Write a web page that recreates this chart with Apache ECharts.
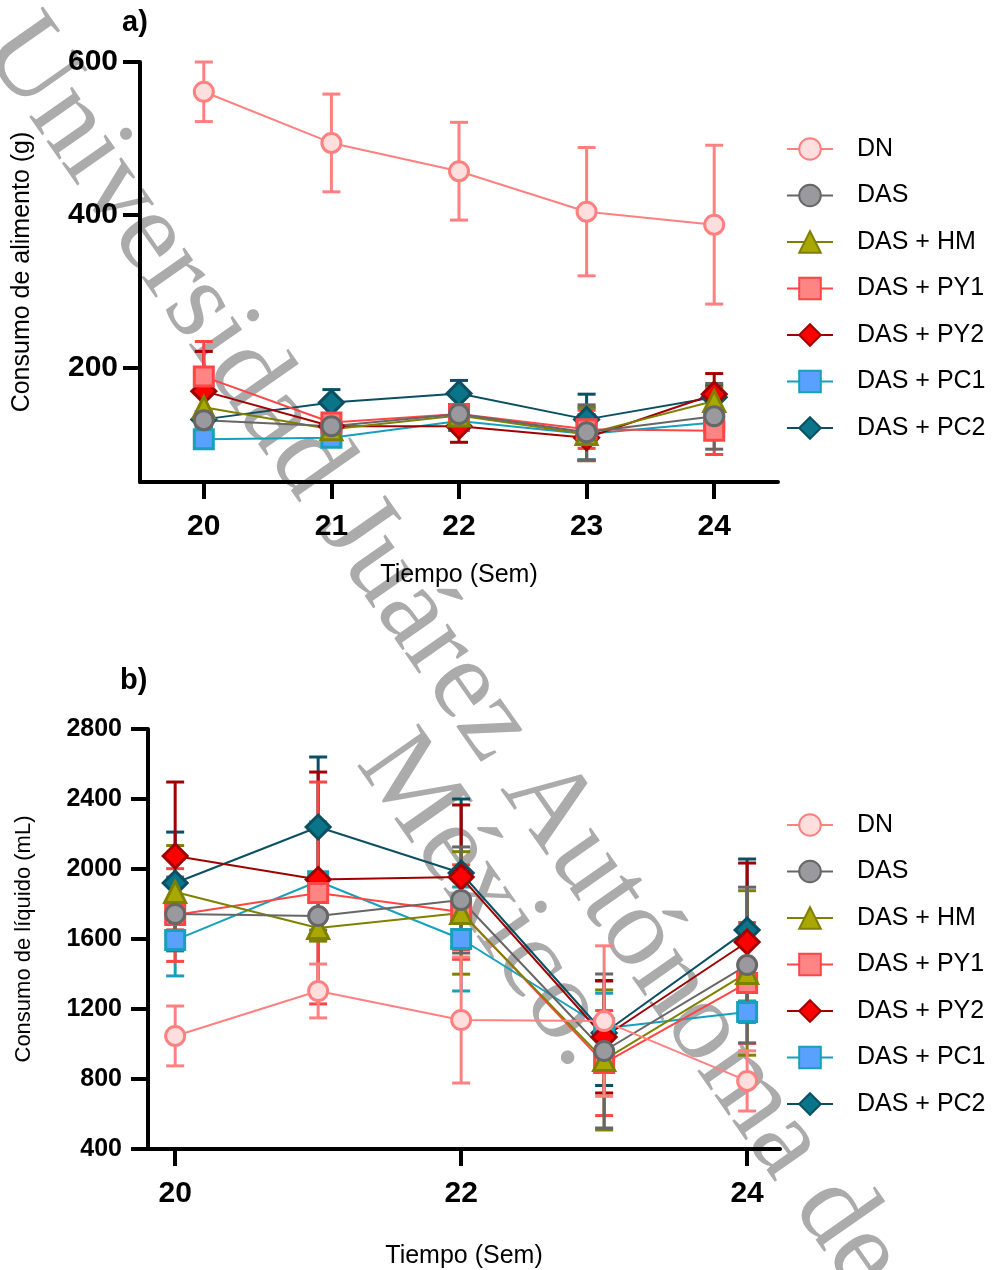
<!DOCTYPE html>
<html>
<head>
<meta charset="utf-8">
<script src="https://cdn.jsdelivr.net/npm/echarts@6/dist/echarts.min.js"></script>
<style>
  html, body { margin: 0; padding: 0; background: #ffffff; }
  #chart { width: 995px; height: 1270px; }
</style>
</head>
<body>
<div id="chart"></div>
<script>
// Weeks of treatment
const weeks = [20, 21, 22, 23, 24];
const groups = ['DN', 'DAS', 'DAS + HM', 'DAS + PY1', 'DAS + PY2', 'DAS + PC1', 'DAS + PC2'];

// a) Food consumption (g): mean and error per week
const foodDN = [561, 494, 457, 404, 387];
const foodDNErr = [39, 64, 64, 84, 104];
const foodDAS = [131, 123, 139, 115, 136];
const foodDASErr = [8, 8, 10, 36, 43];
const foodHM = [148, 119, 137, 113, 156];
const foodHMErr = [23, 6, 6, 35, 18];
const foodPY1 = [188, 128, 139, 119, 117];
const foodPY1Err = [46, 8, 8, 25, 31];
const foodPY2 = [169, 123, 123, 108, 165];
const foodPY2Err = [52, 5, 21, 30, 27];
const foodPC1 = [106, 108, 130, 113, 128];
const foodPC1Err = [6, 6, 8, 34, 10];
const foodPC2 = [132, 154, 166, 132, 161];
const foodPC2Err = [10, 17, 17, 33, 15];

// b) Liquid consumption (mL): mean and error per week
const liqDN = [1046, 1303, 1137, 1131, 789];
const liqDNErr = [171, 154, 360, 430, 172];
const liqDAS = [1743, 1731, 1823, 960, 1451];
const liqDASErr = [211, 80, 303, 440, 445];
const liqHM = [1869, 1663, 1749, 909, 1406];
const liqHMErr = [265, 75, 350, 400, 470];
const liqPY1 = [1737, 1863, 1754, 891, 1349];
const liqPY1Err = [265, 634, 270, 300, 345];
const liqPY2 = [2074, 1940, 1954, 1040, 1583];
const liqPY2Err = [423, 614, 412, 320, 451];
const liqPC1 = [1594, 1930, 1600, 1090, 1183];
const liqPC1Err = [205, 339, 297, 200, 60];
const liqPC2 = [1920, 2240, 1977, 1063, 1651];
const liqPC2Err = [291, 400, 423, 300, 406];

// Tick labels
const foodXTicks = [20, 21, 22, 23, 24];
const foodYTicks = [200, 400, 600];
const liqXTicks = [20, 22, 24];

const FONT = '"Liberation Sans", Arial, Helvetica, sans-serif';

// Per-group look: line colour, marker fill, marker shape, marker size
const styles = {
  'DN':        { line: '#FF8080', fill: '#FFDEDE', symbol: 'circle',  size: 19 },
  'DAS':       { line: '#666666', fill: '#9A9A9E', symbol: 'circle',  size: 19 },
  'DAS + HM':  { line: '#808000', fill: '#A8A800', symbol: 'triangle', size: 21 },
  'DAS + PY1': { line: '#FF4545', fill: '#FF8585', symbol: 'rect',    size: 19 },
  'DAS + PY2': { line: '#A00000', fill: '#FF0000', symbol: 'diamond', size: 24 },
  'DAS + PC1': { line: '#17A0BC', fill: '#5AA0FF', symbol: 'rect',    size: 19 },
  'DAS + PC2': { line: '#0A4F62', fill: '#0A7488', symbol: 'diamond', size: 24 }
};

const foodSets = {
  'DN': [foodDN, foodDNErr], 'DAS': [foodDAS, foodDASErr], 'DAS + HM': [foodHM, foodHMErr],
  'DAS + PY1': [foodPY1, foodPY1Err], 'DAS + PY2': [foodPY2, foodPY2Err],
  'DAS + PC1': [foodPC1, foodPC1Err], 'DAS + PC2': [foodPC2, foodPC2Err]
};
const liqSets = {
  'DN': [liqDN, liqDNErr], 'DAS': [liqDAS, liqDASErr], 'DAS + HM': [liqHM, liqHMErr],
  'DAS + PY1': [liqPY1, liqPY1Err], 'DAS + PY2': [liqPY2, liqPY2Err],
  'DAS + PC1': [liqPC1, liqPC1Err], 'DAS + PC2': [liqPC2, liqPC2Err]
};

// Vertical error bar with caps, drawn from [x, mean, err]
function errorBar(color) {
  return function (params, api) {
    const x = api.value(0), m = api.value(1), e = api.value(2);
    const hi = api.coord([x, m + e]);
    const lo = api.coord([x, m - e]);
    const half = 9;
    const st = { stroke: color, lineWidth: 3 };
    return {
      type: 'group',
      children: [
        { type: 'line', shape: { x1: hi[0], y1: hi[1], x2: lo[0], y2: lo[1] }, style: st },
        { type: 'line', shape: { x1: hi[0] - half, y1: hi[1], x2: hi[0] + half, y2: hi[1] }, style: st },
        { type: 'line', shape: { x1: lo[0] - half, y1: lo[1], x2: lo[0] + half, y2: lo[1] }, style: st }
      ]
    };
  };
}

function buildSeries(sets, axisIndex, tag) {
  const out = [];
  // later groups first so DN ends up on top
  for (let i = groups.length - 1; i >= 0; i--) {
    const g = groups[i];
    const s = styles[g];
    const mean = sets[g][0], err = sets[g][1];
    out.push({
      type: 'custom',
      name: g + ' ' + tag + ' error',
      xAxisIndex: axisIndex, yAxisIndex: axisIndex,
      renderItem: errorBar(s.line),
      encode: { x: 0, y: 1 },
      data: weeks.map((w, k) => [w, mean[k], err[k]]),
      silent: true
    });
    out.push({
      type: 'line',
      name: g,
      xAxisIndex: axisIndex, yAxisIndex: axisIndex,
      data: weeks.map((w, k) => [w, mean[k]]),
      symbol: s.symbol,
      symbolSize: s.size,
      showAllSymbol: true,
      lineStyle: { color: s.line, width: 2 },
      itemStyle: { color: s.fill, borderColor: s.line, borderWidth: 3 },
      emphasis: { disabled: true },
      animation: false
    });
  }
  return out;
}

const axisLine = { show: true, lineStyle: { color: '#000', width: 4 } };
const axisTickStyle = { show: true, length: 17, lineStyle: { color: '#000', width: 4 } };

const legendBase = {
  data: groups,
  orient: 'vertical',
  left: 781,
  itemWidth: 46,
  itemHeight: 27,
  itemGap: 18.5,
  selectedMode: false,
  textStyle: { fontFamily: FONT, fontSize: 25, color: '#000', lineHeight: 28, padding: [0, 0, 0, 19] }
};

const option = {
  animation: false,
  backgroundColor: '#ffffff',
  grid: [
    { left: 140, top: 62, width: 638, height: 420 },
    { left: 148, top: 729, width: 632, height: 420 }
  ],
  legend: [
    Object.assign({}, legendBase, { top: 130 }),
    Object.assign({}, legendBase, { top: 806 })
  ],
  xAxis: [
    {
      gridIndex: 0, type: 'value', min: 19.5, max: 24.5,
      name: 'Tiempo (Sem)', nameLocation: 'middle', nameGap: 81,
      nameTextStyle: { fontFamily: FONT, fontSize: 25, color: '#000' },
      axisLine: axisLine,
      axisTick: Object.assign({ customValues: foodXTicks }, axisTickStyle),
      axisLabel: { customValues: foodXTicks, margin: 30, fontFamily: FONT, fontSize: 30, fontWeight: 'bold', color: '#000' },
      splitLine: { show: false }
    },
    {
      gridIndex: 1, type: 'value', min: 19.81, max: 24.23,
      name: 'Tiempo (Sem)', nameLocation: 'middle', nameGap: 95,
      nameTextStyle: { fontFamily: FONT, fontSize: 25, color: '#000' },
      axisLine: axisLine,
      axisTick: Object.assign({ customValues: liqXTicks }, axisTickStyle),
      axisLabel: { customValues: liqXTicks, margin: 30, fontFamily: FONT, fontSize: 30, fontWeight: 'bold', color: '#000' },
      splitLine: { show: false }
    }
  ],
  yAxis: [
    {
      gridIndex: 0, type: 'value', min: 50, max: 600,
      name: 'Consumo de alimento (g)', nameLocation: 'middle', nameGap: 105,
      nameTextStyle: { fontFamily: FONT, fontSize: 25, color: '#000' },
      axisLine: axisLine,
      axisTick: Object.assign({ customValues: foodYTicks }, axisTickStyle),
      axisLabel: { customValues: foodYTicks, margin: 22, fontFamily: FONT, fontSize: 30, fontWeight: 'bold', color: '#000' },
      splitLine: { show: false }
    },
    {
      gridIndex: 1, type: 'value', min: 400, max: 2800, interval: 400,
      name: 'Consumo de líquido (mL)', nameLocation: 'middle', nameGap: 113,
      nameTextStyle: { fontFamily: FONT, fontSize: 22, color: '#000' },
      axisLine: axisLine,
      axisTick: axisTickStyle,
      axisLabel: {
        margin: 26, fontFamily: FONT, fontSize: 25, fontWeight: 'bold', color: '#000',
        formatter: function (v) { return String(v); }
      },
      splitLine: { show: false }
    }
  ],
  graphic: [
    {
      type: 'text', left: 122, top: 8, z: 100,
      style: { text: 'a)', font: 'bold 29px ' + FONT, fill: '#000' }
    },
    {
      type: 'text', left: 120, top: 666, z: 100,
      style: { text: 'b)', font: 'bold 29px ' + FONT, fill: '#000' }
    },
    {
      type: 'text', x: 5, y: 30, rotation: -55 * Math.PI / 180, z: 0, silent: true,
      style: {
        text: 'Universidad Juárez Autónoma de Tabasco',
        font: '114px "Liberation Serif", "Times New Roman", serif',
        fill: '#ababab', align: 'left', verticalAlign: 'middle'
      }
    },
    {
      type: 'text', x: 380, y: 746, rotation: -55 * Math.PI / 180, z: 0, silent: true,
      style: {
        text: 'México.',
        font: '114px "Liberation Serif", "Times New Roman", serif',
        fill: '#ababab', align: 'left', verticalAlign: 'middle'
      }
    }
  ],
  series: buildSeries(foodSets, 0, 'food').concat(buildSeries(liqSets, 1, 'liquid'))
};

const chart = echarts.init(document.getElementById('chart'), null, { renderer: 'canvas' });
chart.setOption(option);
</script>
</body>
</html>
